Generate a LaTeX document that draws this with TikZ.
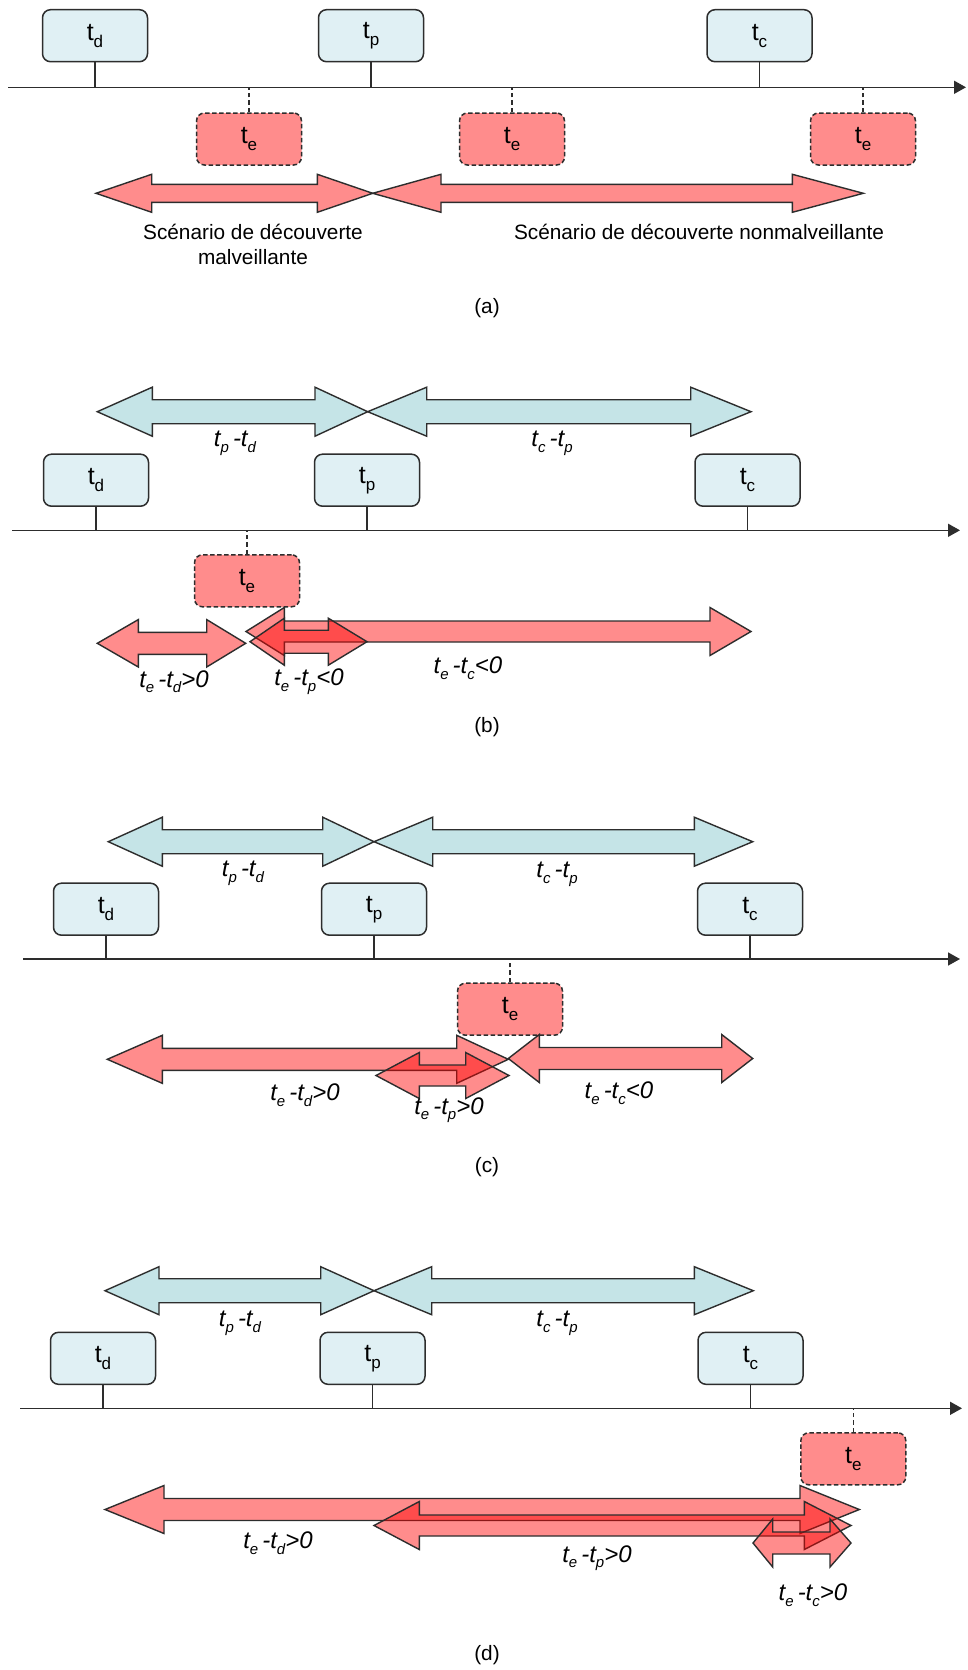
\documentclass[tikz,border=0pt]{standalone}
\usepackage{fontspec}
\setmainfont{Liberation Sans}
\usetikzlibrary{arrows.meta}
\definecolor{lineg}{RGB}{45,45,45}
\definecolor{bluebox}{RGB}{224,240,244}
\definecolor{bluearr}{RGB}{197,228,231}
\newcommand\bl[1]{{\fontsize{25}{25}\selectfont t}\raisebox{-7pt}{\fontsize{17}{17}\selectfont #1}}
\newcommand\ls[1]{\raisebox{-5.5pt}{\fontsize{15}{15}\selectfont #1}}
% block double arrow: style, x left tip, x left head base, x right head base, x right tip, y centre, head half, shaft half
\newcommand\dblk[8]{\draw[#1] (#2,#6) -- (#3,#6-#7) -- (#3,#6-#8) -- (#4,#6-#8) -- (#4,#6-#7) -- (#5,#6) -- (#4,#6+#7) -- (#4,#6+#8) -- (#3,#6+#8) -- (#3,#6+#7) -- cycle;}
\tikzset{
 tbox/.style={draw=lineg, line width=1.5pt, rounded corners=8pt, fill=bluebox, minimum width=105pt, minimum height=52pt, inner sep=0pt},
 ebox/.style={draw=lineg, line width=1.5pt, dash pattern=on 4.5pt off 2.5pt, rounded corners=8pt, fill=red, fill opacity=0.45, text opacity=1, minimum width=105pt, minimum height=52pt, inner sep=0pt},
 axisline/.style={draw=lineg, line width=1.6pt, -{Triangle[length=12pt,width=13pt]}},
 tickl/.style={draw=lineg, line width=1.5pt},
 dtick/.style={draw=lineg, line width=1.5pt, dash pattern=on 4.5pt off 3pt},
 barrB/.style={draw=lineg, line width=1.4pt, fill=bluearr, line join=miter},
 barrR/.style={draw=lineg, line width=1.4pt, fill=red, fill opacity=0.45, line join=miter},
 lab/.style={font=\fontsize{24}{28}\selectfont\itshape, inner sep=0pt},
 txt/.style={font=\fontsize{20.8}{25}\selectfont, inner sep=0pt, align=center},
}
\begin{document}
\begin{tikzpicture}[x=1pt,y=-1pt]
\useasboundingbox (0,0) rectangle (967,1670);
\fill[white] (0,0) rectangle (967,1670);

% ================= (a)
\coordinate (axA) at (8.3,87.3);
\coordinate (axAe) at (966,87.3);
\node[tbox] (tdA) at (95,35.7) {\bl{d}};
\node[tbox] (tpA) at (371,35.7) {\bl{p}};
\node[tbox] (tcA) at (759.5,35.7) {\bl{c}};
\draw[axisline] (axA) -- (axAe);
\foreach \n in {tdA,tpA,tcA} \draw[tickl] (\n.south) -- (\n.south |- axA);
\node[ebox] (teA1) at (249,139) {\bl{e}};
\node[ebox] (teA2) at (512,139) {\bl{e}};
\node[ebox] (teA3) at (863,139) {\bl{e}};
\foreach \n in {teA1,teA2,teA3} \draw[dtick] (\n.north) -- (\n.north |- axA);
\dblk{barrR}{96}{151.7}{317.3}{372.7}{193.3}{19}{9}
\dblk{barrR}{372.7}{441}{792.3}{863.3}{193.3}{19}{9}
\node[txt] (sA1) at (253,244) {Scénario de découverte\\malveillante};
\node[txt] (sA2) at (699,231.7) {Scénario de découverte nonmalveillante};
\node[txt] (capA) at (487,308) {(a)};

% ================= (b)
\coordinate (axB) at (12.3,530.3);
\coordinate (axBe) at (960,530.3);
\dblk{barrB}{97.3}{152.3}{315}{367.7}{411.7}{24.5}{12}
\dblk{barrB}{367.7}{426.7}{690.7}{751}{411.7}{24.5}{12}
\node[lab] (lB1) at (235,443.3) {t\ls{p}\,-t\ls{d}};
\node[lab] (lB2) at (552,443.3) {t\ls{c}\,-t\ls{p}};
\node[tbox] (tdB) at (96,480.2) {\bl{d}};
\node[tbox] (tpB) at (367,480.2) {\bl{p}};
\node[tbox] (tcB) at (747.5,480.2) {\bl{c}};
\draw[axisline] (axB) -- (axBe);
\foreach \n in {tdB,tpB,tcB} \draw[tickl] (\n.south) -- (\n.south |- axB);
\node[ebox] (teB) at (247,580.8) {\bl{e}};
\draw[dtick] (teB.north) -- (teB.north |- axB);
\dblk{barrR}{97.3}{138.3}{206.7}{245.7}{643.3}{23.7}{11}
\dblk{barrR}{246}{284.3}{710}{751}{631.5}{24}{10.5}
\dblk{barrR}{250}{284.3}{328.3}{367}{641.7}{23.5}{11.5}
\node[lab] (lB3) at (174,681.7) {t\ls{e}\,-t\ls{d}>0};
\node[lab] (lB4) at (309,681.7) {t\ls{e}\,-t\ls{p}<0};
\node[lab] (lB5) at (468,668.3) {t\ls{e}\,-t\ls{c}<0};
\node[txt] (capB) at (487,726.7) {(b)};

% ================= (c)
\coordinate (axC) at (23.3,959);
\coordinate (axCe) at (960,959);
\dblk{barrB}{108.3}{162.3}{322.7}{374}{841.7}{24.5}{12}
\dblk{barrB}{374}{432.7}{694.3}{752.7}{841.7}{24.5}{12}
\node[lab] (lC1) at (243,873.3) {t\ls{p}\,-t\ls{d}};
\node[lab] (lC2) at (557,874.3) {t\ls{c}\,-t\ls{p}};
\node[tbox] (tdC) at (106,909.2) {\bl{d}};
\node[tbox] (tpC) at (374,909.2) {\bl{p}};
\node[tbox] (tcC) at (750,909.2) {\bl{c}};
\draw[axisline] (axC) -- (axCe);
\foreach \n in {tdC,tpC,tcC} \draw[tickl] (\n.south) -- (\n.south |- axC);
\node[ebox] (teC) at (510,1009.2) {\bl{e}};
\draw[dtick] (teC.north) -- (teC.north |- axC);
\dblk{barrR}{107.3}{162.3}{456.7}{508.3}{1059.3}{24}{11}
\dblk{barrR}{376}{419.3}{465.7}{509}{1075.5}{23}{10.5}
\dblk{barrR}{508.3}{539.3}{721.7}{752.7}{1058.5}{24}{11}
\node[lab] (lC3) at (305,1095) {t\ls{e}\,-t\ls{d}>0};
\node[lab] (lC4) at (449,1110) {t\ls{e}\,-t\ls{p}>0};
\node[lab] (lC5) at (619,1093.3) {t\ls{e}\,-t\ls{c}<0};
\node[txt] (capC) at (487,1166.7) {(c)};

% ================= (d)
\coordinate (axD) at (20,1408.3);
\coordinate (axDe) at (962,1408.3);
\dblk{barrB}{105}{159}{320.7}{374}{1290.7}{24}{12}
\dblk{barrB}{374}{431.7}{694.3}{753.3}{1290.7}{24}{12}
\node[lab] (lD1) at (240,1323.3) {t\ls{p}\,-t\ls{d}};
\node[lab] (lD2) at (557,1323.3) {t\ls{c}\,-t\ls{p}};
\node[tbox] (tdD) at (103,1358.3) {\bl{d}};
\node[tbox] (tpD) at (372.5,1358.3) {\bl{p}};
\node[tbox] (tcD) at (750.5,1358.3) {\bl{c}};
\draw[axisline] (axD) -- (axDe);
\foreach \n in {tdD,tpD,tcD} \draw[tickl] (\n.south) -- (\n.south |- axD);
\node[ebox] (teD) at (853.3,1458.8) {\bl{e}};
\draw[dtick] (teD.north) -- (teD.north |- axD);
\dblk{barrR}{105}{164}{800}{859.3}{1509.5}{24}{11}
\dblk{barrR}{374}{419.3}{804.3}{851}{1525.5}{24}{10.5}
\dblk{barrR}{753}{772.7}{830}{851}{1543}{24}{11}
\node[lab] (lD3) at (278,1543.3) {t\ls{e}\,-t\ls{d}>0};
\node[lab] (lD4) at (597,1558.3) {t\ls{e}\,-t\ls{p}>0};
\node[lab] (lD5) at (813,1595) {t\ls{e}\,-t\ls{c}>0};
\node[txt] (capD) at (487,1655) {(d)};
\end{tikzpicture}
\end{document}
